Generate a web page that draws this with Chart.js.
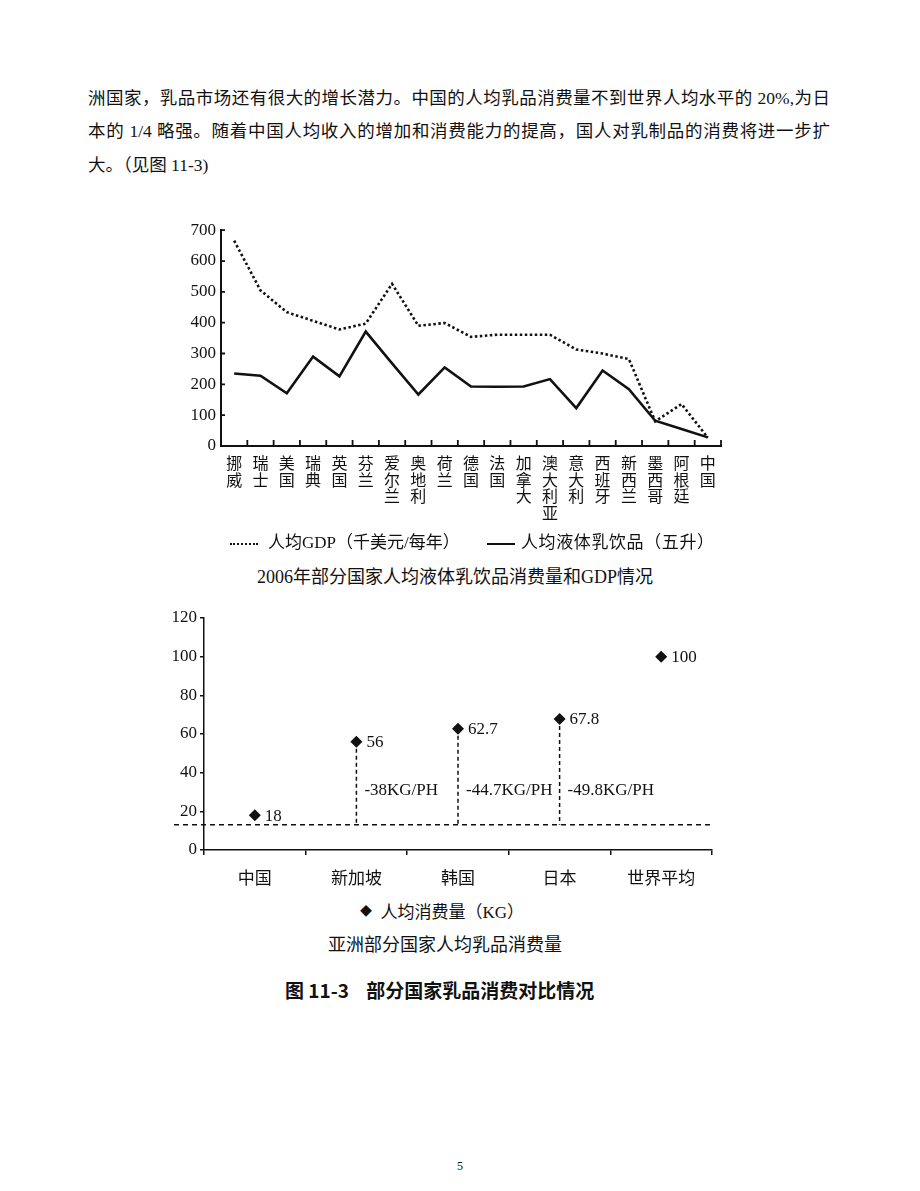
<!DOCTYPE html>
<html lang="zh-CN">
<head>
<meta charset="utf-8">
<title>部分国家乳品消费对比情况</title>
<script src="https://cdn.jsdelivr.net/npm/chart.js@4.4.1/dist/chart.umd.min.js"></script>
<style>
    body { margin: 0; background: #fff; }
    #page {
        position: relative; width: 920px; height: 1191px; overflow: hidden;
        font-family: "Liberation Serif", "Noto Sans CJK SC", serif; color: #111;
    }
    .abs { position: absolute; white-space: nowrap; }
    .para { left: 88px; width: 742px; font-size: 17.5px; line-height: 34px; }
    .just { text-align: justify; text-align-last: justify; }
    .wrap { position: absolute; }
    .sample { display: inline-block; width: 28px; vertical-align: middle; }
</style>
</head>
<body>
<div id="page">
    <div class="abs para just" style="top:81px;">洲国家，乳品市场还有很大的增长潜力。中国的人均乳品消费量不到世界人均水平的 20%,为日</div>
    <div class="abs para just" style="top:114px;">本的 1/4 略强。随着中国人均收入的增加和消费能力的提高，国人对乳制品的消费将进一步扩</div>
    <div class="abs para" style="top:148px;">大。（见图 11-3)</div>

    <div class="wrap" style="left:160px; top:215px; width:580px; height:330px;">
        <canvas id="gdpChart" width="580" height="330"></canvas>
    </div>

    <div class="abs" style="left:230px; top:532px; font-size:17px; line-height:22px;">
        <span class="sample" style="border-top:2.5px dotted #111;"></span>
    </div>
    <div class="abs" style="left:268px; top:532px; font-size:17px; line-height:22px;">人均GDP（千美元/每年）</div>
    <div class="abs" style="left:487px; top:532px; font-size:17px; line-height:22px;">
        <span class="sample" style="border-top:2.5px solid #111;"></span>
    </div>
    <div class="abs" style="left:521px; top:532px; font-size:17px; line-height:22px; letter-spacing:0.6px;">人均液体乳饮品（五升）</div>
    <div class="abs" style="left:0; width:910px; text-align:center; top:566px; font-size:18px; line-height:22px;">2006年部分国家人均液体乳饮品消费量和GDP情况</div>

    <div class="wrap" style="left:140px; top:598px; width:590px; height:300px;">
        <canvas id="asiaChart" width="590" height="300"></canvas>
    </div>

    <div class="abs" style="left:360px; top:901px; font-size:17px; line-height:22px;"><span style="font-size:12px; vertical-align:2px;">◆</span>&nbsp; 人均消费量（KG）</div>
    <div class="abs" style="left:0; width:890px; text-align:center; top:934px; font-size:18px; line-height:22px;">亚洲部分国家人均乳品消费量</div>
    <div class="abs" style="left:285px; top:979px; font-size:19px; line-height:22px; font-family:'Noto Sans CJK SC', sans-serif; font-weight:700; white-space:pre;">图 11-3    部分国家乳品消费对比情况</div>

    <div class="abs" style="left:457px; top:1158px; font-size:12px; line-height:16px;">5</div>
</div>

<script>
// 2006年部分国家人均液体乳饮品消费量和GDP情况
const countries = ["挪威", "瑞士", "美国", "瑞典", "英国", "芬兰", "爱尔兰", "奥地利", "荷兰", "德国",
    "法国", "加拿大", "澳大利亚", "意大利", "西班牙", "新西兰", "墨西哥", "阿根廷", "中国"];
const gdpPerCapita = [666, 505, 434, 406, 378, 397, 526, 390, 399, 354, 361, 361, 361, 313, 300, 282, 80, 136, 27];
const milkPerCapita = [235, 228, 171, 290, 226, 371, 268, 167, 255, 193, 192, 193, 217, 123, 245, 184, 82, 55, 28];
const gdpTicks = [0, 100, 200, 300, 400, 500, 600, 700];

// 亚洲部分国家人均乳品消费量
const asiaCountries = ["中国", "新加坡", "韩国", "日本", "世界平均"];
const asiaConsumption = [18, 56, 62.7, 67.8, 100];
const gapLabels = ["", "-38KG/PH", "-44.7KG/PH", "-49.8KG/PH", ""];
const baseLevel = 13;      // dashed reference line
const gapLabelLevel = 31;  // height of the gap labels
const asiaTicks = [0, 20, 40, 60, 80, 100, 120];

const ink = "#111";
const serif = "'Liberation Serif', 'Noto Sans CJK SC', serif";
const cjk = "'Noto Sans CJK SC', sans-serif";

// small tick marks pointing into the plot, as in the printed chart
const innerTicks = {
    id: "innerTicks",
    afterDraw(chart) {
        const ctx = chart.ctx;
        const x = chart.scales.x;
        const y = chart.scales.y;
        const n = x.getLabels().length;
        ctx.save();
        ctx.strokeStyle = ink;
        ctx.lineWidth = 1.8;
        ctx.beginPath();
        for (let i = 1; i <= n; i++) {
            let px = x.left + i * x.width / n;
            ctx.moveTo(px, y.bottom);
            ctx.lineTo(px, y.bottom - 6);
        }
        y.ticks.forEach((t, i) => {
            let py = y.getPixelForTick(i);
            ctx.moveTo(x.left, py);
            ctx.lineTo(x.left + 4, py);
        });
        ctx.stroke();
        ctx.restore();
    }
};

new Chart(document.getElementById("gdpChart"), {
    type: "line",
    data: {
        labels: countries.map(c => c.split("")),
        datasets: [{
            label: "人均GDP（千美元/每年）",
            data: gdpPerCapita,
            borderColor: ink,
            borderWidth: 2.6,
            borderDash: [2.5, 2.5],
            pointRadius: 0,
            tension: 0
        }, {
            label: "人均液体乳饮品（五升）",
            data: milkPerCapita,
            borderColor: ink,
            borderWidth: 2.6,
            pointRadius: 0,
            tension: 0
        }]
    },
    options: {
        responsive: false,
        animation: false,
        layout: { padding: { top: 10, right: 19, left: 0, bottom: 0 } },
        plugins: { legend: { display: false }, tooltip: { enabled: false } },
        scales: {
            x: {
                offset: true,
                grid: { display: true, drawOnChartArea: false, drawTicks: false, offset: true },
                border: { color: ink, width: 2 },
                ticks: {
                    color: ink, autoSkip: false, maxRotation: 0, padding: 9,
                    font: { family: cjk, size: 16, lineHeight: 1.03 }
                },
                afterFit: s => { s.height = 99; }
            },
            y: {
                min: 0, max: 700,
                afterBuildTicks: s => { s.ticks = gdpTicks.map(v => ({ value: v })); },
                grid: { drawOnChartArea: false, drawTicks: false },
                border: { color: ink, width: 2 },
                ticks: { color: ink, padding: 5, font: { family: serif, size: 17 } },
                afterFit: s => { s.width = 61; }
            }
        }
    },
    plugins: [innerTicks]
});

// dashed guide lines and text labels for the second chart
const asiaMarks = {
    id: "asiaMarks",
    beforeDatasetsDraw(chart) {
        const ctx = chart.ctx;
        const x = chart.scales.x;
        const y = chart.scales.y;
        const baseY = y.getPixelForValue(baseLevel);
        ctx.save();
        ctx.strokeStyle = ink;
        ctx.lineWidth = 1.5;
        ctx.setLineDash([5, 4]);
        ctx.beginPath();
        ctx.moveTo(chart.chartArea.left - 30, baseY);
        ctx.lineTo(chart.chartArea.right, baseY);
        ctx.stroke();
        ctx.setLineDash([4, 3]);
        asiaConsumption.forEach((v, i) => {
            if (!gapLabels[i]) return;
            let px = x.getPixelForValue(i);
            ctx.beginPath();
            ctx.moveTo(px, y.getPixelForValue(v));
            ctx.lineTo(px, baseY);
            ctx.stroke();
        });
        ctx.restore();
    },
    afterDatasetsDraw(chart) {
        const ctx = chart.ctx;
        const x = chart.scales.x;
        const y = chart.scales.y;
        ctx.save();
        ctx.fillStyle = ink;
        ctx.font = "17px " + serif;
        ctx.textAlign = "left";
        ctx.textBaseline = "middle";
        asiaConsumption.forEach((v, i) => {
            let px = x.getPixelForValue(i);
            ctx.fillText(String(v), px + 10, y.getPixelForValue(v) + 1);
            if (gapLabels[i]) {
                ctx.fillText(gapLabels[i], px + 8, y.getPixelForValue(gapLabelLevel));
            }
        });
        ctx.restore();
    }
};

new Chart(document.getElementById("asiaChart"), {
    type: "line",
    data: {
        labels: asiaCountries,
        datasets: [{
            label: "人均消费量（KG）",
            data: asiaConsumption,
            showLine: false,
            pointStyle: "rectRot",
            pointRadius: 6,
            backgroundColor: ink,
            borderColor: ink,
            borderWidth: 0
        }]
    },
    options: {
        responsive: false,
        animation: false,
        layout: { padding: { top: 20, right: 18, left: 0, bottom: 0 } },
        plugins: { legend: { display: false }, tooltip: { enabled: false } },
        scales: {
            x: {
                offset: true,
                grid: { drawOnChartArea: false, drawTicks: true, tickLength: 5, offset: true, color: ink, lineWidth: 1.5 },
                border: { color: ink, width: 1.5 },
                ticks: { color: ink, padding: 12, font: { family: cjk, size: 17 } },
                afterFit: s => { s.height = 48; }
            },
            y: {
                min: 0, max: 120,
                afterBuildTicks: s => { s.ticks = asiaTicks.map(v => ({ value: v })); },
                grid: { drawOnChartArea: false, drawTicks: true, tickLength: 4, color: ink, lineWidth: 1.5 },
                border: { color: ink, width: 1.5 },
                ticks: { color: ink, padding: 3, font: { family: serif, size: 17 } },
                afterFit: s => { s.width = 64; }
            }
        }
    },
    plugins: [asiaMarks]
});
</script>
</body>
</html>
